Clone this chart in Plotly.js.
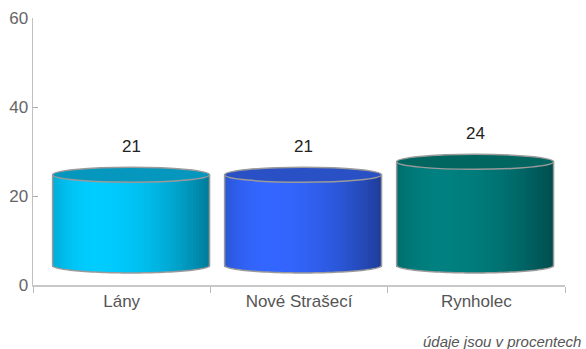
<!DOCTYPE html>
<html><head><meta charset="utf-8">
<script src="https://cdn.plot.ly/plotly-3.0.1.min.js"></script>
<style>html,body{margin:0;padding:0;background:#fff}#chart{width:586px;height:349px}</style>
</head><body><div id="chart"></div>
<script>
// ---- data ----
const categories = ['Lány', 'Nové Strašecí', 'Rynholec'];
const values = [21, 21, 24];
const yTickValues = [0, 20, 40, 60];
const footnote = 'údaje jsou v procentech';

// ---- style ----
const bodyColors = [[0, 204, 255], [51, 102, 255], [0, 128, 128]];
const topColors = ['#0597bd', '#2a50c6', '#00665f'];
const outline = '#9a9a9a';
const FONT = 'Liberation Sans, Arial, sans-serif';
const N = 48;
const depthScale = 0.97;
const baseLift = 4.4;
const cylWidth = 0.885;
const xShift = 0.023;
const pxPerUnit = 267 / 60;
const ry = 7.5 / pxPerUnit;

function cx(i) { return 1 + (i - 1) * depthScale + xShift; }
function topY(i) { return baseLift + depthScale * values[i]; }
function shade(t) {
  if (t < -0.45) { const u = (t + 0.45) / 0.55; return 1 - 0.16 * u * u; }
  const u = (t + 0.45) / 1.45; return 1 - 0.4 * u * u;
}
function rgb(c, m) { return 'rgb(' + c.map(v => Math.round(v * m)).join(',') + ')'; }

const traces = [];
const ws = cylWidth / N;
for (let j = 0; j < N; j++) {
  const t = -1 + (2 * j + 1) / N;
  const dip = ry * Math.sqrt(Math.max(0, 1 - t * t));
  const bases = values.map(() => baseLift - dip);
  const heights = values.map((v, i) => topY(i) - (baseLift - dip));
  const offsets = values.map((v, i) => cx(i) - i - cylWidth / 2 + j * ws - ws * 0.15);
  const colors = values.map((v, i) => rgb(bodyColors[i], shade(t)));
  traces.push({
    type: 'bar', x: categories, y: heights, base: bases,
    offset: offsets, width: ws * 1.3,
    marker: { color: colors, line: { width: 0 } },
    hoverinfo: 'skip', showlegend: false
  });
}

const shapes = [];
const annotations = [];
values.forEach((v, i) => {
  const xl = cx(i) - cylWidth / 2, xr = cx(i) + cylWidth / 2, top = topY(i);
  let p = `M ${xl},${top} L ${xl},${baseLift}`;
  for (let k = 1; k <= 60; k++) {
    const phi = Math.PI * k / 60;
    p += ` L ${cx(i) - (cylWidth / 2) * Math.cos(phi)},${baseLift - ry * Math.sin(phi)}`;
  }
  p += ` L ${xr},${top}`;
  shapes.push({ type: 'path', xref: 'x', yref: 'y', path: p, line: { color: outline, width: 1.5 }, layer: 'above' });
  shapes.push({ type: 'circle', xref: 'x', yref: 'y', x0: xl, x1: xr, y0: top - ry, y1: top + ry,
    fillcolor: topColors[i], line: { color: outline, width: 1.5 }, layer: 'above' });
  annotations.push({ x: cx(i), y: top + ry, xref: 'x', yref: 'y', text: String(v), showarrow: false,
    yanchor: 'middle', yshift: 21, font: { family: FONT, size: 17, color: '#222' } });
});
annotations.push({ xref: 'paper', yref: 'paper', x: 1.034, y: -0.21, xanchor: 'right', yanchor: 'middle',
  text: '<i>' + footnote + '</i>', showarrow: false, font: { family: FONT, size: 15, color: '#555' } });

const layout = {
  width: 586, height: 349,
  margin: { l: 33, r: 21, t: 18, b: 64 },
  paper_bgcolor: '#fff', plot_bgcolor: '#fff',
  barmode: 'overlay', bargap: 0,
  font: { family: FONT },
  xaxis: {
    type: 'category', categoryarray: categories, range: [-0.5, 2.5],
    showline: true, linecolor: '#c8c8c8', linewidth: 1.5,
    ticks: 'outside', tickson: 'boundaries', ticklen: 6, tickcolor: '#bbb', tickwidth: 1,
    tickfont: { family: FONT, size: 17, color: '#555' }, showgrid: false, zeroline: false, fixedrange: true
  },
  yaxis: {
    range: [0, 60], tickvals: yTickValues, ticktext: yTickValues.map(String),
    showline: true, linecolor: '#c0c0c0', linewidth: 1.5,
    ticks: 'inside', ticklen: 5, tickcolor: '#aaa', tickwidth: 1,
    tickfont: { family: FONT, size: 17, color: '#666' }, showgrid: false, zeroline: false, fixedrange: true
  },
  shapes: shapes,
  annotations: annotations,
  showlegend: false
};

Plotly.newPlot('chart', traces, layout, { displayModeBar: false, staticPlot: true });
</script></body></html>
